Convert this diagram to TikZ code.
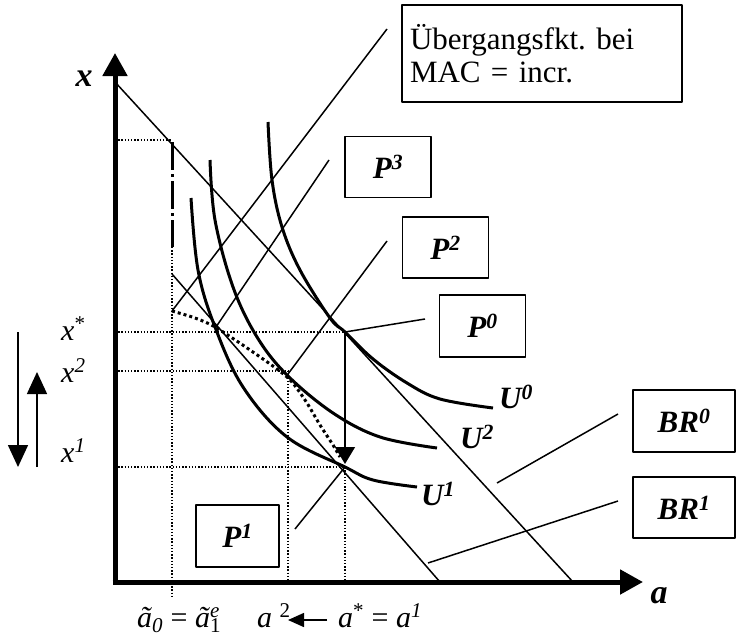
\documentclass[tikz,border=0pt]{standalone}
\usepackage{fontspec}
\setmainfont{Liberation Serif}
\usetikzlibrary{arrows.meta}
\newcommand{\bigtxt}{\fontsize{30}{34}\selectfont}
\newcommand{\tila}{\textit{ã}}

\begin{document}
\begin{tikzpicture}[x=1pt,y=-1pt,font=\bigtxt,line join=round,
  thinl/.style={line width=1.5pt},
  thickc/.style={line width=3pt},
  gridl/.style={line width=1.3pt,dash pattern=on 1.3pt off 1.9pt},
  pbox/.style={draw,line width=1.5pt,inner sep=0pt,minimum width=86pt,minimum height=61pt,
    font=\fontsize{31}{35}\selectfont\bfseries\itshape},
  clab/.style={font=\fontsize{31}{35}\selectfont\bfseries\itshape}]
\useasboundingbox (0,0) rectangle (736,637);

%================= points of the picture =================
\coordinate (P0) at (345,332);
\coordinate (P1) at (345,467);
\coordinate (P2) at (288,374);
\coordinate (P3) at (216,327);
\coordinate (T0) at (172,311);

%================= grid =================
\foreach \y/\x in {140/172,332/345,371/288,467/345}{
  \draw[gridl] (115,\y) -- (\x,\y);}
\draw[gridl] (172,247) -- (172,598);
\draw[gridl] (288,371) -- (288,582);
\draw[gridl] (345,467) -- (345,582);
\draw[line width=3pt,dash pattern=on 28pt off 4pt on 3pt off 4pt] (172,142) -- (172,247);

%================= axes =================
\draw[line width=5pt,-{Triangle[length=23pt,width=24pt]}] (112.5,582) -- (643,582);
\draw[line width=5pt,-{Triangle[length=23pt,width=24pt]}] (115,584.5) -- (115,53);
\node[clab,font=\fontsize{34}{38}\selectfont\bfseries\itshape] (xax) at (84,79) {x};
\node[clab,font=\fontsize{34}{38}\selectfont\bfseries\itshape] (aax) at (659,596) {a};

% --- budget lines
\draw[thinl] (115,82) -- (573,582);
\draw[thinl] (172,274) -- (440,582);

% --- indifference curves
\draw[thickc] plot[smooth,tension=0.6] coordinates {(268,122) (272,180) (282,227) (300,270)
  (330,318) (345,332) (373,359) (407,383) (440,399) (493,408)};
\draw[thickc] plot[smooth,tension=0.6] coordinates {(210,160) (215,220) (233,287) (257,337)
  (287,375) (333,413) (380,437) (437,448)};
\draw[thickc] plot[smooth,tension=0.6] coordinates {(191,198) (198,270) (215,327) (243,387)
  (287,437) (345,467) (373,480) (417,487)};
\node[clab] (U0) at (516,397) {U\textsuperscript{0}};
\node[clab] (U2) at (477,437) {U\textsuperscript{2}};
\node[clab] (U1) at (438,494) {U\textsuperscript{1}};

% --- adjustment path
\draw[line width=3pt,dash pattern=on 3pt off 3pt] plot[smooth,tension=0.5] coordinates
  {(172,311) (195,318) (215,327) (250,350) (287,377) (305,400) (320,425) (333,445) (340,457)};
\draw[thinl,-{Triangle[length=17pt,width=20pt]},shorten >=3pt] (P0) -- (P1);

%================= boxes and leaders =================
\node[draw,line width=1.5pt,inner sep=0pt,minimum width=280pt,minimum height=97pt,
  align=left,text width=264pt,font=\fontsize{31}{33}\selectfont] (trans) at (542,53.5)
  {Übergangsfkt.\ bei\\MAC = incr.};
\node[pbox] (boxP3) at (388,167) {P\textsuperscript{3}};
\node[pbox] (boxP2) at (445.5,247.5) {P\textsuperscript{2}};
\node[pbox,minimum height=62pt] (boxP0) at (482.5,326) {P\textsuperscript{0}};
\node[pbox,minimum width=83pt,minimum height=62pt] (boxP1) at (237.5,536) {P\textsuperscript{1}};
\node[pbox,minimum width=102pt,minimum height=62pt] (boxBR0) at (684,421) {BR\textsuperscript{0}};
\node[pbox,minimum width=102pt,minimum height=61pt] (boxBR1) at (684,507.5) {BR\textsuperscript{1}};

\coordinate (lT) at (387,29);
\coordinate (l3) at (329,160);
\coordinate (l2) at (387,241);
\coordinate (l0) at (425,319);
\coordinate (l1) at (295,529);
\coordinate (br0a) at (497,483);
\coordinate (br0b) at (618,414);
\coordinate (br1a) at (428,563);
\coordinate (br1b) at (618,501);
\draw[thinl] (T0) -- (lT);
\draw[thinl] (P3) -- (l3);
\draw[thinl] (P2) -- (l2);
\draw[thinl] (P0) -- (l0);
\draw[thinl] (P1) -- (l1);
\draw[thinl] (br0a) -- (br0b);
\draw[thinl] (br1a) -- (br1b);

%================= labels on the axes =================
\node[anchor=base west,inner sep=0pt] (xs) at (61,340) {\textit{x}\textsuperscript{*}};
\node[anchor=base west,inner sep=0pt] (x2) at (61,382) {\textit{x}\textsuperscript{\textit{2}}};
\node[anchor=base west,inner sep=0pt] (x1) at (61,462) {\textit{x}\textsuperscript{\textit{1}}};
\coordinate (dnA) at (18,332);
\coordinate (dnB) at (18,467);
\coordinate (upA) at (37,467);
\coordinate (upB) at (37,372);
\draw[thinl,-{Triangle[length=22pt,width=20pt]}] (dnA) -- (dnB);
\draw[thinl,-{Triangle[length=22pt,width=20pt]}] (upA) -- (upB);

\node[anchor=base west,inner sep=0pt] (a0) at (137,627)
  {\tila\textsubscript{\textit{0}} = \tila\rlap{\textsubscript{1}}\textsuperscript{\textit{e}}};
\node[anchor=base west,inner sep=0pt] (a2) at (257,627) {\textit{a} \textsuperscript{2}};
\node[anchor=base west,inner sep=0pt] (as) at (338,627) {\textit{a}\textsuperscript{*} = \textit{a}\textsuperscript{\textit{1}}};
\coordinate (arA) at (327,620);
\coordinate (arB) at (288,620);
\draw[thinl,-{Triangle[length=16pt,width=14pt]}] (arA) -- (arB);
\end{tikzpicture}
\end{document}
